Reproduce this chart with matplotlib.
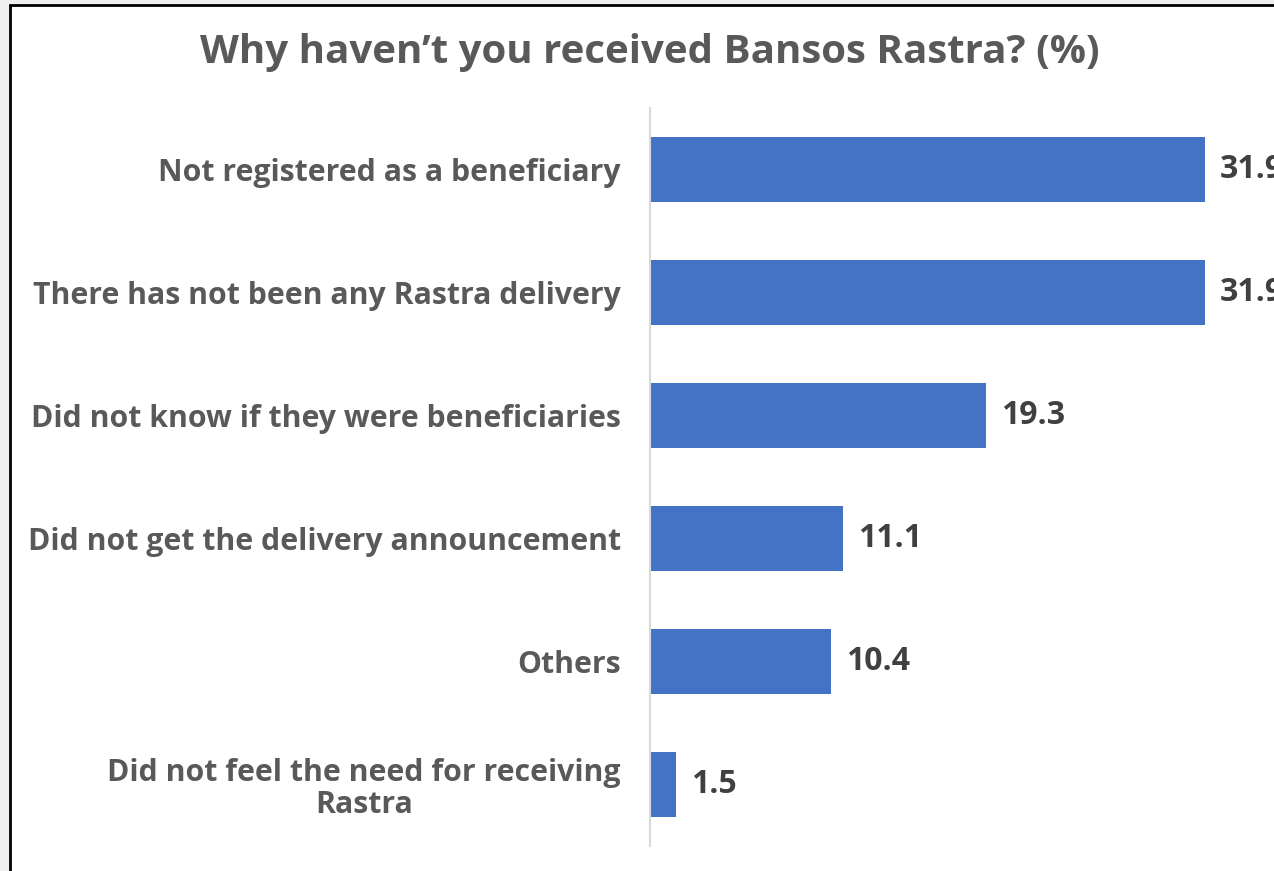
import matplotlib
matplotlib.use("Agg")
import matplotlib.pyplot as plt
from matplotlib.patches import Rectangle

categories = [
    "Not registered as a beneficiary",
    "There has not been any Rastra delivery",
    "Did not know if they were beneficiaries",
    "Did not get the delivery announcement",
    "Others",
    "Did not feel the need for receiving\nRastra",
]
values = [31.9, 31.9, 19.3, 11.1, 10.4, 1.5]
title = "Why haven\u2019t you received Bansos Rastra? (%)"

W, H = 1274, 871
fig = plt.figure(figsize=(W / 100, H / 100), dpi=100, facecolor="#F0F0F0")
fig.patches.append(Rectangle((9.5 / W, -0.1), 1.2, 1 - 5.5 / H + 0.1,
                             transform=fig.transFigure, facecolor="white",
                             edgecolor="black", linewidth=2, zorder=-10))

font = "Open Sans"
ax_l, ax_r = 650, 1274
ax_t, ax_b = 108, 846
ax = fig.add_axes([ax_l / W, 1 - ax_b / H, (ax_r - ax_l) / W, (ax_b - ax_t) / H])
ax.set_zorder(5)
ax.set_facecolor("none")
scale = 17.4
ax.set_xlim(0, (ax_r - ax_l) / scale)
n = len(categories)
ypos = list(range(n))
ax.set_ylim(n - 0.5, -0.5)
ax.barh(ypos, values, height=0.53, color="#4472C4")
for y, v in zip(ypos, values):
    ax.text(v + 0.85, y, f"{v:.1f}", va="center", ha="left", fontsize=23,
            fontweight="bold", color="#404040", family=font, clip_on=False)
ax.set_yticks(ypos)
ax.set_yticklabels(categories, fontsize=21.8, fontweight="bold", color="#595959",
                   family=font, linespacing=1.1, multialignment="center")
ax.tick_params(axis="y", length=0, pad=21)
ax.set_xticks([])
for s in ["top", "right", "bottom"]:
    ax.spines[s].set_visible(False)
ax.spines["left"].set_color("#D9D9D9")
ax.spines["left"].set_linewidth(1.5)

t = fig.text(650 / W, 1 - 52 / H, title, ha="center", va="center", fontsize=29,
             fontweight="bold", color="#595959", family=font)
t.set_zorder(6)

fig.savefig("out.png", dpi=100, facecolor=fig.get_facecolor())
